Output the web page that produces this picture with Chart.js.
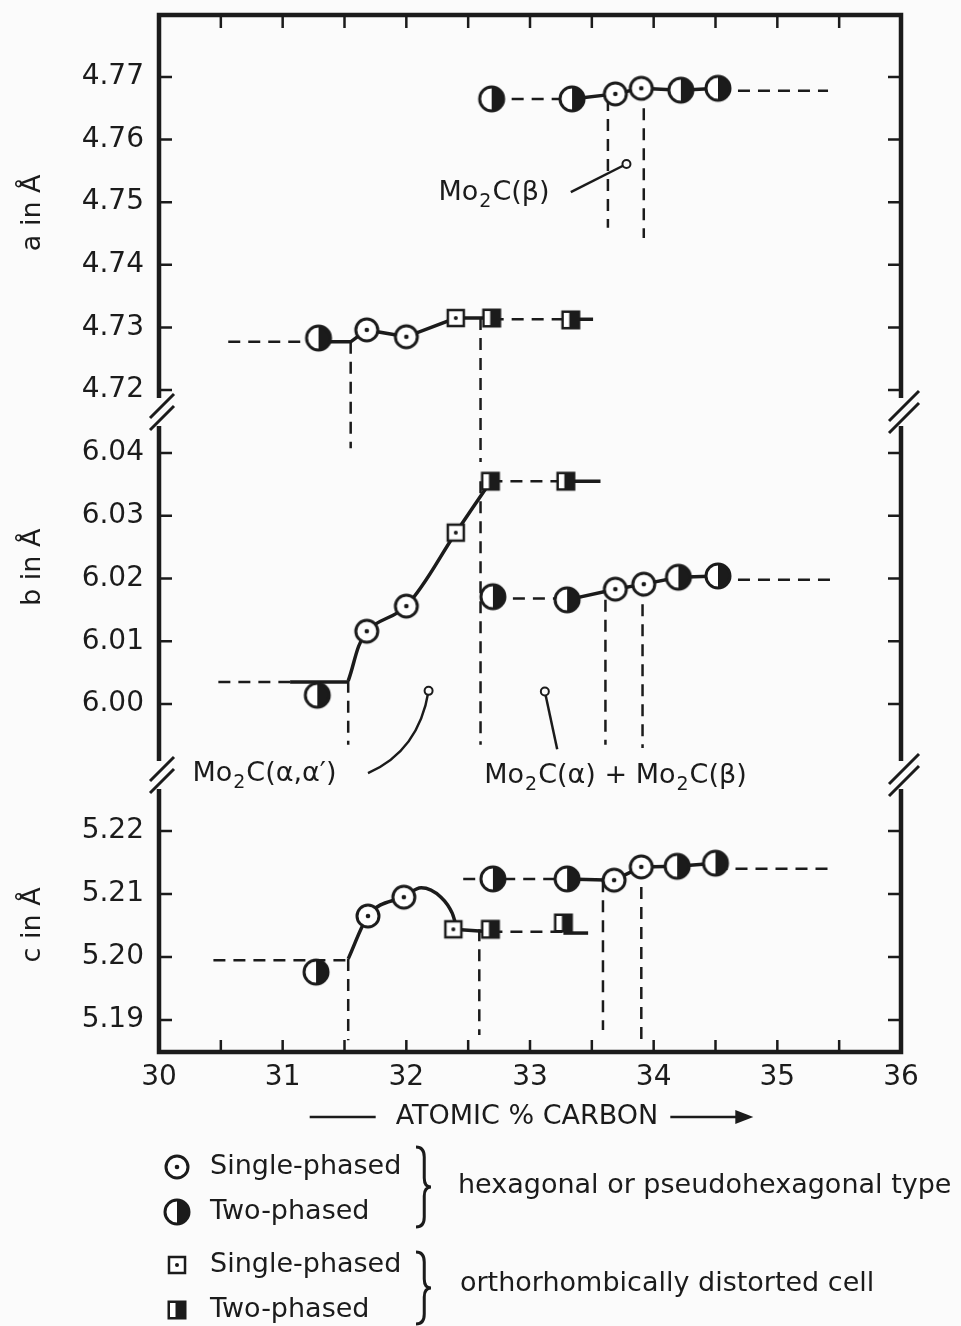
<!DOCTYPE html>
<html>
<head>
<meta charset="utf-8">
<title>Mo2C lattice parameters</title>
<script src="https://cdn.jsdelivr.net/npm/chart.js@4.4.1/dist/chart.umd.min.js"></script>
<style>
  html, body { margin: 0; padding: 0; background: #fbfbfb; }
  canvas { display: block; }
</style>
</head>
<body>
<canvas id="lattice_chart" width="961" height="1326"></canvas>
<script>
// x = atomic % carbon, y = lattice parameter in Angstrom, points as [x, y]
var xTickLabels = ['30', '31', '32', '33', '34', '35', '36'];
var aTickLabels = ['4.72', '4.73', '4.74', '4.75', '4.76', '4.77'];
var bTickLabels = ['6.00', '6.01', '6.02', '6.03', '6.04'];
var cTickLabels = ['5.19', '5.20', '5.21', '5.22'];

// a axis
var aHexSingle = [[31.68, 4.7296], [32.00, 4.7285], [33.69, 4.7673], [33.90, 4.7682]];
var aHexTwo = [[31.29, 4.7283], [32.69, 4.7665], [33.34, 4.7665], [34.22, 4.7679], [34.52, 4.7682]];
var aOrthoSingle = [[32.40, 4.7315]];
var aOrthoTwo = [[32.69, 4.7315], [33.33, 4.7312]];
var aSolid = [[31.29, 4.7277], [31.55, 4.7277], [31.68, 4.7296], [32.00, 4.7285], [32.40, 4.7315], [32.69, 4.7315]];
var aUpperSolid = [[33.34, 4.7665], [33.69, 4.7673], [33.90, 4.7682], [34.22, 4.7679], [34.52, 4.7682]];
var aDashed = [
  [[30.56, 4.7277], [31.29, 4.7277]],
  [[32.69, 4.7313], [33.33, 4.7313]],
  [[32.69, 4.7665], [33.34, 4.7665]],
  [[34.52, 4.7678], [35.41, 4.7678]],
  [[31.55, 4.7277], [31.55, 4.7107]],
  [[32.60, 4.7315], [32.60, 4.7085]],
  [[33.63, 4.7665], [33.63, 4.7459]],
  [[33.92, 4.7682], [33.92, 4.7443]]
];
var aShort = [[[33.33, 4.7313], [33.51, 4.7313]]];

// b axis
var bHexSingle = [[31.68, 6.0116], [32.00, 6.0156], [33.69, 6.0183], [33.92, 6.0191]];
var bHexTwo = [[31.28, 6.0014], [32.70, 6.0171], [33.30, 6.0166], [34.20, 6.0202], [34.52, 6.0204]];
var bOrthoSingle = [[32.40, 6.0273]];
var bOrthoTwo = [[32.68, 6.0355], [33.29, 6.0355]];
var bCurve = [[31.53, 6.0037], [31.68, 6.0116], [32.00, 6.0156], [32.40, 6.0273], [32.69, 6.0357]];
var bLowerSolid = [[33.30, 6.0166], [33.69, 6.0183], [33.92, 6.0191], [34.20, 6.0202], [34.52, 6.0204]];
var bDashed = [
  [[30.48, 6.0035], [31.06, 6.0035]],
  [[32.68, 6.0355], [33.29, 6.0355]],
  [[32.70, 6.0168], [33.30, 6.0168]],
  [[34.52, 6.0198], [35.48, 6.0198]],
  [[31.53, 6.0037], [31.53, 5.9935]],
  [[32.60, 6.0355], [32.60, 5.9935]],
  [[33.61, 6.0166], [33.61, 5.9935]],
  [[33.91, 6.0191], [33.91, 5.9930]]
];
var bShort = [[[31.06, 6.0035], [31.53, 6.0035]], [[33.29, 6.0355], [33.57, 6.0355]]];

// c axis
var cHexSingle = [[31.69, 5.2065], [31.98, 5.2095], [33.68, 5.2122], [33.90, 5.2143]];
var cHexTwo = [[31.27, 5.1976], [32.70, 5.2124], [33.30, 5.2124], [34.19, 5.2144], [34.50, 5.2149]];
var cOrthoSingle = [[32.38, 5.2044]];
var cOrthoTwo = [[32.68, 5.2044], [33.27, 5.2054]];
var cCurve = [[31.53, 5.1997], [31.69, 5.2065], [31.98, 5.2096], [32.12, 5.2110], [32.28, 5.2095], [32.37, 5.2070], [32.40, 5.2052]];
var cUpperSolid = [[33.30, 5.2124], [33.68, 5.2122], [33.90, 5.2143], [34.19, 5.2144], [34.50, 5.2149]];
var cDashed = [
  [[30.44, 5.1995], [31.53, 5.1995]],
  [[32.68, 5.2040], [33.27, 5.2040]],
  [[32.46, 5.2124], [33.30, 5.2124]],
  [[34.50, 5.2140], [35.45, 5.2140]],
  [[31.53, 5.1997], [31.53, 5.1868]],
  [[32.59, 5.2044], [32.59, 5.1876]],
  [[33.59, 5.2122], [33.59, 5.1884]],
  [[33.90, 5.2143], [33.90, 5.1868]]
];
var cShort = [[[32.38, 5.2044], [32.68, 5.2040]], [[33.27, 5.2038], [33.47, 5.2038]]];

var legendRows = ['Single-phased', 'Two-phased', 'Single-phased', 'Two-phased'];
var legendGroups = ['hexagonal or pseudohexagonal type', 'orthorhombically distorted cell'];

var ink = '#1b1b1b';
var paper = '#fbfbfb';
var FONT = '"DejaVu Sans", "Liberation Sans", sans-serif';

Chart.defaults.font.family = FONT;
Chart.defaults.color = ink;

function makeMarker(kind) {
  var c = document.createElement('canvas');
  c.width = 30;
  c.height = 30;
  var g = c.getContext('2d');
  g.translate(15, 15);
  g.strokeStyle = ink;
  g.fillStyle = ink;
  if (kind == 'hexSingle') {
    g.lineWidth = 3;
    g.beginPath(); g.arc(0, 0, 11, 0, Math.PI * 2);
    g.fillStyle = '#fff'; g.fill(); g.stroke();
    g.fillStyle = ink;
    g.beginPath(); g.arc(0, 0, 2.3, 0, Math.PI * 2); g.fill();
  } else if (kind == 'hexTwo') {
    g.lineWidth = 3;
    g.beginPath(); g.arc(0, 0, 12, 0, Math.PI * 2);
    g.fillStyle = '#fff'; g.fill();
    g.fillStyle = ink;
    g.beginPath(); g.arc(0, 0, 12, -Math.PI / 2, Math.PI / 2); g.closePath(); g.fill();
    g.beginPath(); g.arc(0, 0, 12, 0, Math.PI * 2); g.stroke();
  } else if (kind == 'orthoSingle') {
    g.lineWidth = 2.5;
    g.fillStyle = '#fff';
    g.fillRect(-8, -8, 16, 16);
    g.strokeRect(-8, -8, 16, 16);
    g.fillStyle = ink;
    g.beginPath(); g.arc(0, 0, 2, 0, Math.PI * 2); g.fill();
  } else {
    g.fillRect(-9.5, -9.5, 19, 19);
    g.fillStyle = '#fff';
    g.fillRect(-7, -7, 5.5, 14);
  }
  return c;
}

var markers = {
  hexSingle: makeMarker('hexSingle'),
  hexTwo: makeMarker('hexTwo'),
  orthoSingle: makeMarker('orthoSingle'),
  orthoTwo: makeMarker('orthoTwo')
};

function toXY(pts) {
  return pts.map(function (p) { return { x: p[0], y: p[1] }; });
}

function markerSet(pts, axis, kind) {
  return {
    type: 'scatter', data: toXY(pts), yAxisID: axis,
    pointStyle: markers[kind], pointRadius: 12, pointHoverRadius: 12,
    showLine: false, clip: false, order: 0
  };
}

function lineSet(pts, axis, style) {
  return {
    type: 'scatter', data: toXY(pts), yAxisID: axis, showLine: true,
    pointRadius: 0, pointHoverRadius: 0, borderColor: ink, fill: false,
    borderWidth: style == 'dash' ? 2.5 : 3.5,
    borderDash: style == 'dash' ? [12, 8] : [],
    tension: style == 'curve' ? 0.35 : 0,
    cubicInterpolationMode: style == 'arc' ? 'monotone' : 'default',
    clip: false, order: 1
  };
}

var datasets = [];
function addPanel(axis, hexSingle, hexTwo, orthoSingle, orthoTwo, solids, curves, curveStyle, dashed, shorts) {
  datasets.push(markerSet(hexSingle, axis, 'hexSingle'));
  datasets.push(markerSet(hexTwo, axis, 'hexTwo'));
  datasets.push(markerSet(orthoSingle, axis, 'orthoSingle'));
  datasets.push(markerSet(orthoTwo, axis, 'orthoTwo'));
  solids.forEach(function (s) { datasets.push(lineSet(s, axis, 'solid')); });
  curves.forEach(function (s) { datasets.push(lineSet(s, axis, curveStyle)); });
  dashed.forEach(function (s) { datasets.push(lineSet(s, axis, 'dash')); });
  shorts.forEach(function (s) { datasets.push(lineSet(s, axis, 'solid')); });
}
addPanel('ya', aHexSingle, aHexTwo, aOrthoSingle, aOrthoTwo, [aSolid, aUpperSolid], [], 'curve', aDashed, aShort);
addPanel('yb', bHexSingle, bHexTwo, bOrthoSingle, bOrthoTwo, [bLowerSolid], [bCurve], 'curve', bDashed, bShort);
addPanel('yc', cHexSingle, cHexTwo, cOrthoSingle, cOrthoTwo, [cUpperSolid], [cCurve], 'arc', cDashed, cShort);

function yAxis(labels, min, max, weight) {
  return {
    type: 'linear', position: 'left', stack: 'cell', stackWeight: weight,
    min: min, max: max,
    grid: { display: false, drawTicks: false },
    border: { display: false },
    ticks: {
      stepSize: 0.01, includeBounds: false, padding: 15,
      font: { size: 28 }, color: ink,
      callback: function (v) {
        var s = v.toFixed(2);
        return labels.indexOf(s) >= 0 ? s : '';
      }
    },
    afterFit: function (scale) {
      scale.width = 159;
      scale.paddingTop = 0;
      scale.paddingBottom = 0;
    }
  };
}

function drawParts(ctx, x, y, parts) {
  var cx = x;
  for (var i = 0; i < parts.length; i++) {
    ctx.font = (parts[i][1] ? '19px ' : '27px ') + FONT;
    ctx.fillText(parts[i][0], cx, parts[i][1] ? y + 9 : y);
    cx += ctx.measureText(parts[i][0]).width + 1;
  }
}

function drawBrace(ctx, x, y1, y2, w) {
  var ym = (y1 + y2) / 2;
  var xm = x + w * 0.55;
  ctx.beginPath();
  ctx.moveTo(x, y1);
  ctx.quadraticCurveTo(xm, y1, xm, y1 + 10);
  ctx.lineTo(xm, ym - 9);
  ctx.quadraticCurveTo(xm, ym, x + w, ym);
  ctx.quadraticCurveTo(xm, ym, xm, ym + 9);
  ctx.lineTo(xm, y2 - 10);
  ctx.quadraticCurveTo(xm, y2, x, y2);
  ctx.stroke();
}

function drawBreak(ctx, x, y, half) {
  ctx.fillStyle = paper;
  ctx.fillRect(x - 4, y - 14, 8, 28);
  ctx.lineWidth = 3;
  [-6, 6].forEach(function (d) {
    ctx.beginPath();
    ctx.moveTo(x + 3 - half, y + d + half);
    ctx.lineTo(x + 3 + half, y + d - half);
    ctx.stroke();
  });
}

function leader(ctx, x0, y0, x1, y1, cx, cy) {
  ctx.lineWidth = 2.5;
  ctx.beginPath();
  ctx.moveTo(x0, y0);
  if (cx != null) ctx.quadraticCurveTo(cx, cy, x1, y1);
  else ctx.lineTo(x1, y1);
  ctx.stroke();
  ctx.lineWidth = 2;
  ctx.fillStyle = paper;
  ctx.beginPath(); ctx.arc(x1, y1, 4, 0, Math.PI * 2); ctx.fill(); ctx.stroke();
}

var paperPlugin = {
  id: 'paperFrame',
  beforeDraw: function (chart) {
    var ctx = chart.ctx;
    ctx.save();
    ctx.fillStyle = paper;
    ctx.fillRect(0, 0, chart.width, chart.height);
    ctx.restore();
  },
  afterDraw: function (chart) {
    var ctx = chart.ctx;
    var s = chart.scales;
    var ca = chart.chartArea;
    ctx.save();
    ctx.strokeStyle = ink;
    ctx.fillStyle = ink;

    // frame
    ctx.lineWidth = 4.5;
    ctx.lineCap = 'square';
    ctx.strokeRect(ca.left, ca.top, ca.right - ca.left, ca.bottom - ca.top);
    ctx.lineCap = 'butt';

    // inward ticks
    ctx.lineWidth = 2.5;
    ['ya', 'yb', 'yc'].forEach(function (id) {
      s[id].ticks.forEach(function (t) {
        if (t.label === '') return;
        var y = s[id].getPixelForValue(t.value);
        ctx.beginPath();
        ctx.moveTo(ca.left, y); ctx.lineTo(ca.left + 13, y);
        ctx.moveTo(ca.right, y); ctx.lineTo(ca.right - 13, y);
        ctx.stroke();
      });
    });
    s.x.ticks.forEach(function (t) {
      var x = s.x.getPixelForValue(t.value);
      if (x <= ca.left + 2 || x >= ca.right - 2) return;
      ctx.beginPath();
      ctx.moveTo(x, ca.bottom); ctx.lineTo(x, ca.bottom - 12);
      ctx.moveTo(x, ca.top); ctx.lineTo(x, ca.top + 13);
      ctx.stroke();
    });

    // axis breaks
    [s.ya.bottom, s.yb.bottom].forEach(function (y) {
      ctx.strokeStyle = ink;
      drawBreak(ctx, ca.left, y, 12);
      drawBreak(ctx, ca.right, y, 15);
    });

    // y titles
    ctx.fillStyle = ink;
    ctx.font = '27px ' + FONT;
    ctx.textAlign = 'center';
    ctx.textBaseline = 'middle';
    [['a in Å', s.ya.getPixelForValue(4.7483)],
     ['b in Å', s.yb.getPixelForValue(6.0218)],
     ['c in Å', s.yc.getPixelForValue(5.2051)]].forEach(function (t) {
      ctx.save();
      ctx.translate(33, t[1]);
      ctx.rotate(-Math.PI / 2);
      ctx.fillText(t[0], 0, 0);
      ctx.restore();
    });

    // x title with arrow
    var xc = (ca.left + ca.right) / 2 - 3;
    var ty = 1117;
    var title = 'ATOMIC % CARBON';
    var tw = ctx.measureText(title).width;
    ctx.fillText(title, xc, ty);
    ctx.lineWidth = 2.5;
    ctx.beginPath();
    ctx.moveTo(xc - tw / 2 - 86, ty); ctx.lineTo(xc - tw / 2 - 20, ty);
    ctx.moveTo(xc + tw / 2 + 12, ty); ctx.lineTo(xc + tw / 2 + 80, ty);
    ctx.stroke();
    ctx.beginPath();
    ctx.moveTo(xc + tw / 2 + 95, ty);
    ctx.lineTo(xc + tw / 2 + 77, ty - 7);
    ctx.lineTo(xc + tw / 2 + 77, ty + 7);
    ctx.closePath();
    ctx.fill();

    // annotations
    ctx.textAlign = 'left';
    var X = function (v) { return s.x.getPixelForValue(v); };
    drawParts(ctx, X(32.26), s.ya.getPixelForValue(4.7515), [['Mo', 0], ['2', 1], ['C(β)', 0]]);
    leader(ctx, X(33.33), s.ya.getPixelForValue(4.7516), X(33.78), s.ya.getPixelForValue(4.7561));
    ctx.fillStyle = ink;
    drawParts(ctx, X(30.27), s.yb.getPixelForValue(5.9889), [['Mo', 0], ['2', 1], ['C(α,α′)', 0]]);
    leader(ctx, X(31.69), s.yb.getPixelForValue(5.9890), X(32.18), s.yb.getPixelForValue(6.0021),
      X(32.10), s.yb.getPixelForValue(5.9925));
    ctx.fillStyle = ink;
    drawParts(ctx, X(32.63), s.yb.getPixelForValue(5.9885),
      [['Mo', 0], ['2', 1], ['C(α) + Mo', 0], ['2', 1], ['C(β)', 0]]);
    leader(ctx, X(33.22), s.yb.getPixelForValue(5.9928), X(33.12), s.yb.getPixelForValue(6.0020));

    // legend
    var kinds = ['hexSingle', 'hexTwo', 'orthoSingle', 'orthoTwo'];
    var rowY = [1167, 1212, 1265, 1310];
    ctx.fillStyle = ink;
    ctx.font = '27px ' + FONT;
    for (var i = 0; i < legendRows.length; i++) {
      ctx.drawImage(markers[kinds[i]], 177 - 15, rowY[i] - 15, 30, 30);
      ctx.fillText(legendRows[i], 210, rowY[i]);
    }
    ctx.lineWidth = 3;
    drawBrace(ctx, 416, 1147, 1227, 15);
    drawBrace(ctx, 416, 1252, 1324, 15);
    ctx.fillText(legendGroups[0], 458, 1186);
    ctx.fillText(legendGroups[1], 460, 1284);
    ctx.restore();
  }
};

var ctx = document.getElementById('lattice_chart').getContext('2d');
var latticeChart = new Chart(ctx, {
  type: 'scatter',
  data: { datasets: datasets },
  options: {
    responsive: false,
    animation: false,
    events: [],
    layout: { padding: { top: 15, right: 60, bottom: 214, left: 0 } },
    plugins: { legend: { display: false }, tooltip: { enabled: false } },
    scales: {
      x: {
        type: 'linear', position: 'bottom', min: 30, max: 36,
        grid: { display: false, drawTicks: false },
        border: { display: false },
        ticks: {
          stepSize: 0.5, autoSkip: false, maxRotation: 0, padding: 9,
          font: { size: 28 }, color: ink,
          callback: function (v) {
            var s = String(Math.round(v * 10) / 10);
            return xTickLabels.indexOf(s) >= 0 ? s : '';
          }
        },
        afterFit: function (scale) { scale.height = 60; }
      },
      yc: yAxis(cTickLabels, 5.18492, 5.22889, 277),
      yb: yAxis(bTickLabels, 5.98869, 6.04653, 363),
      ya: yAxis(aTickLabels, 4.71649, 4.77990, 397)
    }
  },
  plugins: [paperPlugin]
});
</script>
</body>
</html>
